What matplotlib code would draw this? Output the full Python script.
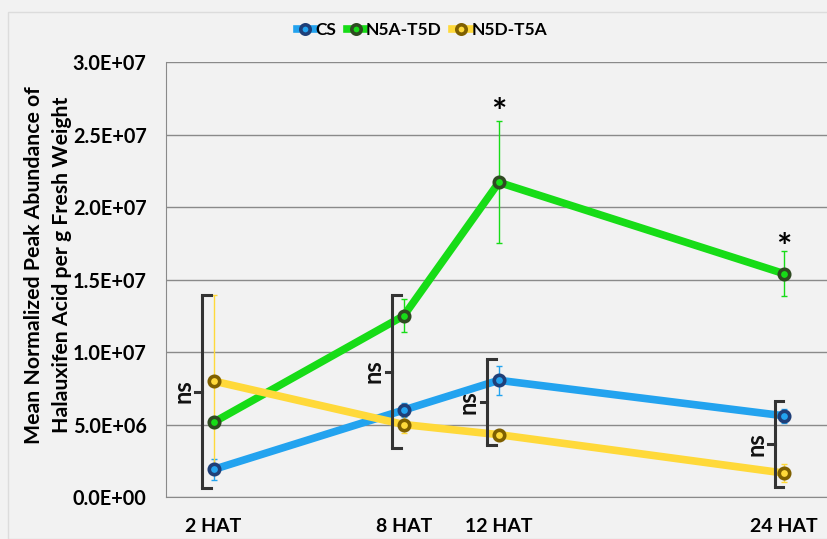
import matplotlib.pyplot as plt
from matplotlib.patches import Rectangle

# data
times = ['2 HAT', '8 HAT', '12 HAT', '24 HAT']
cs = [1.9e6, 6.0e6, 8.05e6, 5.6e6]
cs_err = [0.7e6, 0.5e6, 1.0e6, 0.5e6]
n5a = [5.15e6, 12.5e6, 21.7e6, 15.4e6]
n5a_err = [0.3e6, 1.15e6, 4.2e6, 1.55e6]
n5d = [8.0e6, 5.0e6, 4.3e6, 1.65e6]
n5d_err = [5.9e6, 0.6e6, 0.3e6, 0.6e6]

# horizontal spacing of the categories in the original layout
xpos = [0, 2, 3, 6]

plt.rcParams['font.family'] = ['Lato', 'DejaVu Sans']
plt.rcParams['font.weight'] = 'bold'

fig = plt.figure(figsize=(8.27, 5.39), dpi=100, facecolor='#f2f2f2')
fig.patches.append(Rectangle((8 / 827, 0), 1, 1 - 12 / 539, transform=fig.transFigure,
                             fill=False, edgecolor='#dcdcdc', lw=1, zorder=0))
ax = fig.add_axes([0.2007, 0.0779, 0.7993, 0.807])
ax.set_facecolor('#f2f2f2')

series = [
    ('CS', cs, cs_err, '#23a3ef', '#1f3f78'),
    ('N5A-T5D', n5a, n5a_err, '#17dc17', '#2f4a22'),
    ('N5D-T5A', n5d, n5d_err, '#ffd93a', '#7f6000'),
]
for name, vals, err, col, dark in series:
    ax.errorbar(xpos, vals, yerr=err, fmt='none', ecolor=col, elinewidth=1,
                capsize=2, capthick=1, zorder=3)
    ax.plot(xpos, vals, color=col, lw=5.5, marker='o', markersize=7.5,
            markerfacecolor=col, markeredgecolor=dark, markeredgewidth=2.6,
            label=name, zorder=4)

ax.set_xlim(-0.5, 6.45)
ax.set_ylim(0, 3.0e7)
ax.set_yticks([i * 5e6 for i in range(7)])
ax.set_yticklabels(['0.0E+00', '5.0E+06', '1.0E+07', '1.5E+07', '2.0E+07', '2.5E+07', '3.0E+07'])
ax.set_xticks(xpos)
ax.set_xticklabels(times)
ax.tick_params(axis='x', length=0, labelsize=14, colors='black', pad=15)
ax.tick_params(axis='y', length=0, labelsize=14.3, colors='black', pad=14)
ax.yaxis.grid(True, color='#8a8a8a', lw=1)
ax.set_axisbelow(True)
for s in ['top', 'right']:
    ax.spines[s].set_visible(False)
ax.spines['left'].set_color('#8a8a8a')
ax.spines['bottom'].set_color('#8a8a8a')

fig.text(48 / 827, 0.508, 'Mean Normalized Peak Abundance of\nHalauxifen Acid per g Fresh Weight',
         rotation=90, ha='center', va='center', fontsize=15.3, fontweight='bold',
         linespacing=1.45)

# significance markers
ax.text(3, 2.53e7, '*', ha='center', va='bottom', fontsize=26, fontweight='bold')
ax.text(6, 1.6e7, '*', ha='center', va='bottom', fontsize=26, fontweight='bold')


def bracket(x, y0, y1, label):
    c = '#333333'
    ax.plot([x, x], [y0, y1], color=c, lw=2.2, zorder=5, solid_capstyle='butt')
    ax.plot([x, x + 0.09], [y1, y1], color=c, lw=2.2, zorder=5)
    ax.plot([x, x + 0.09], [y0, y0], color=c, lw=2.2, zorder=5)
    ym = (y0 + y1) / 2
    ax.plot([x - 0.07, x], [ym, ym], color=c, lw=2.2, zorder=5)
    ax.text(x - 0.08, ym, label, rotation=90, ha='right', va='center',
            fontsize=17, fontweight='bold', color='#111111')


bracket(-0.12, 0.65e6, 13.9e6, 'ns')
bracket(1.88, 3.4e6, 13.9e6, 'ns')
bracket(2.88, 3.6e6, 9.5e6, 'ns')
bracket(5.9, 0.7e6, 6.6e6, 'ns')

leg = fig.legend(loc='center', bbox_to_anchor=(0.51, 0.944), ncol=3, frameon=False,
                 fontsize=12.5, handlelength=1.0, handletextpad=0.1, columnspacing=0.6,
                 markerscale=0.9)

fig.savefig('out.png', dpi=100, facecolor=fig.get_facecolor())
